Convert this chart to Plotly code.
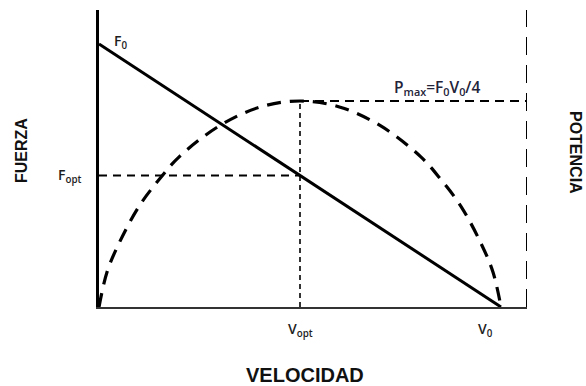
import plotly.graph_objects as go

# Normalised velocity (V0 = 1) and force (F0 = 1)
v_force = [0.0, 1.0]
f_force = [1.0, 0.0]

# Power-velocity curve (normalised so that Pmax = 1)
v_power = [0.0, 0.02, 0.05, 0.10, 0.15, 0.20, 0.30, 0.40, 0.50,
           0.60, 0.70, 0.80, 0.85, 0.90, 0.95, 0.98, 1.0]
p_power = [0.0, 0.17, 0.31, 0.49, 0.62, 0.73, 0.88, 0.97, 1.0,
           0.97, 0.88, 0.73, 0.62, 0.49, 0.31, 0.17, 0.0]

# Reference points
v_opt = 0.5
v_0 = 1.0
f_opt = 0.5
f_0 = 1.0
p_max = 1.0

x_max = 1.0647   # right edge of the plotting window (velocity units)
y_max = 1.129    # top of the force axis
y2_max = 1.4417  # top of the power axis

fig = go.Figure()

# Power curve
fig.add_trace(go.Scatter(
    x=v_power, y=p_power, yaxis="y2", mode="lines",
    line=dict(color="black", width=3.2, dash="14px,9px", shape="spline", smoothing=1.0),
    hoverinfo="skip"))

# Force-velocity line
fig.add_trace(go.Scatter(
    x=v_force, y=f_force, mode="lines",
    line=dict(color="black", width=3),
    hoverinfo="skip"))

# Fopt guide
fig.add_trace(go.Scatter(
    x=[0, v_opt], y=[f_opt, f_opt], mode="lines",
    line=dict(color="black", width=2, dash="8px,6px"), hoverinfo="skip"))

# Pmax guide
fig.add_trace(go.Scatter(
    x=[v_opt, x_max], y=[p_max, p_max], yaxis="y2", mode="lines",
    line=dict(color="black", width=2, dash="9px,6px"), hoverinfo="skip"))

# Vopt guide
fig.add_trace(go.Scatter(
    x=[v_opt, v_opt], y=[0, p_max], yaxis="y2", mode="lines",
    line=dict(color="black", width=1.6, dash="5px,4px"), hoverinfo="skip"))

# Right (power) axis drawn as a dashed line
fig.add_trace(go.Scatter(
    x=[x_max, x_max], y=[0, y_max], mode="lines",
    line=dict(color="black", width=2, dash="18px,10px"), hoverinfo="skip"))

lbl_font = dict(family="Open Sans", size=14, color="#1e1e1e", weight=600)
title_font = dict(family="Liberation Sans", size=16, color="#111111")

annotations = [
    dict(x=0, y=f_0, xref="x", yref="y", text="F<sub>0</sub>", showarrow=False,
         xanchor="center", yanchor="middle", xshift=21, yshift=2, font=lbl_font),
    dict(x=0, y=f_opt, xref="x", yref="y", text="F<sub>opt</sub>", showarrow=False,
         xanchor="right", yanchor="middle", xshift=-15, font=lbl_font),
    dict(x=v_opt, y=0, xref="x", yref="y", text="V<sub>opt</sub>", showarrow=False,
         xanchor="center", yanchor="top", yshift=-10, font=lbl_font),
    dict(x=v_0, y=0, xref="x", yref="y", text="V<sub>0</sub>", showarrow=False,
         xanchor="center", yanchor="top", xshift=-15, yshift=-10, font=lbl_font),
    dict(x=0.841, y=p_max, xref="x", yref="y2",
         text="P<sub>max</sub>=F<sub>0</sub>V<sub>0</sub>/4", showarrow=False,
         xanchor="center", yanchor="bottom", yshift=0,
         font=dict(family="Open Sans", size=15.5, color="#23233a", weight=600)),
    dict(x=0, y=0.525, xref="paper", yref="paper", text="<b>FUERZA</b>", showarrow=False,
         xanchor="center", yanchor="middle", xshift=-78, textangle=-90, font=title_font),
    dict(x=1, y=0.522, xref="paper", yref="paper", text="<b>POTENCIA</b>", showarrow=False,
         xanchor="center", yanchor="middle", xshift=48, textangle=90, font=title_font),
    dict(x=0.481, y=-0.229, xref="paper", yref="paper", text="<b>VELOCIDAD</b>", showarrow=False,
         xanchor="center", yanchor="middle", font=dict(family="Liberation Sans", size=20, color="#111111")),
]

fig.update_layout(
    width=586, height=386,
    margin=dict(l=99, r=59, t=10, b=79),
    paper_bgcolor="white", plot_bgcolor="white",
    showlegend=False,
    annotations=annotations,
    xaxis=dict(range=[0, x_max], showgrid=False, zeroline=False, showticklabels=False,
               ticks="", showline=True, linecolor="#333333", linewidth=2),
    yaxis=dict(range=[0, y_max], showgrid=False, zeroline=False, showticklabels=False,
               ticks="", showline=True, linecolor="black", linewidth=2.5),
    yaxis2=dict(range=[0, y2_max], overlaying="y", side="right", showgrid=False,
                zeroline=False, showticklabels=False, ticks="", showline=False),
)

fig.write_html("out.html")
